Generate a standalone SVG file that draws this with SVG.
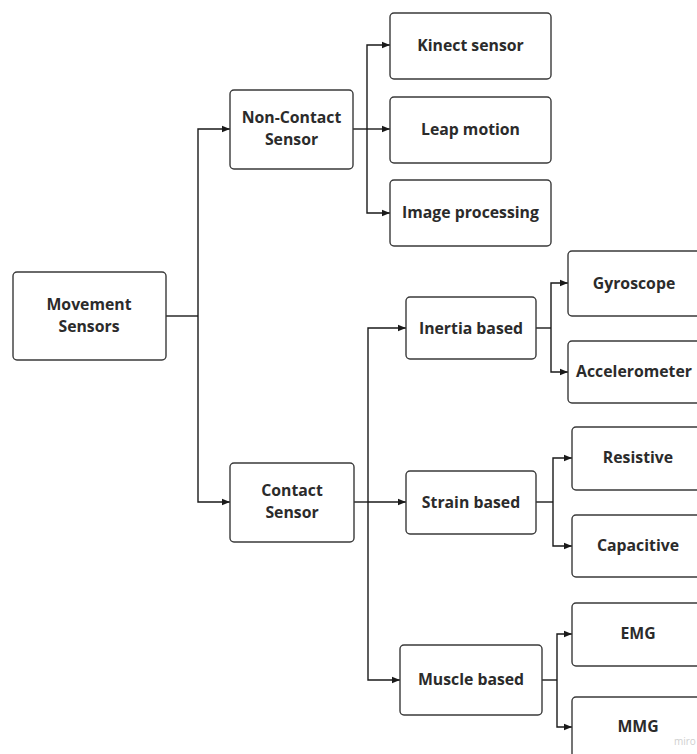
<svg xmlns="http://www.w3.org/2000/svg" width="697" height="754" viewBox="0 0 697 754">
  <defs>
    <marker id="arrow" viewBox="0 0 10 10" refX="10" refY="5" markerWidth="8" markerHeight="8" markerUnits="userSpaceOnUse" orient="auto">
      <path d="M0,1 L10,5 L0,9 z" fill="#1a1a1a"/>
    </marker>
    <style>
      .box { fill: #ffffff; stroke: #3a3a3a; stroke-width: 1.4; }
      .lbl { font-family: "Open Sans", "Noto Sans", "Liberation Sans", sans-serif; font-size: 15.8px; font-weight: 700; fill: #2b2b2b; text-anchor: middle; }
      .wire { fill: none; stroke: #1a1a1a; stroke-width: 1.4; }
      .arr { marker-end: url(#arrow); }
      .brand { font-family: "Open Sans", "Liberation Sans", sans-serif; font-size: 10px; fill: #cfcfcf; }
    </style>
  </defs>
  <rect width="697" height="754" fill="#ffffff"/>

  <!-- connectors -->
  <g id="connectors">
    <!-- root to level 1 -->
    <path class="wire" d="M166,316 H198"/>
    <path class="wire arr" d="M198,316 V129 H230"/>
    <path class="wire arr" d="M198,316 V502 H230"/>
    <!-- non-contact branch -->
    <path class="wire" d="M353,129 H367"/>
    <path class="wire arr" d="M367,129 V45 H390"/>
    <path class="wire arr" d="M367,129 H390"/>
    <path class="wire arr" d="M367,129 V213 H390"/>
    <!-- contact branch -->
    <path class="wire" d="M354,502 H368"/>
    <path class="wire arr" d="M368,502 V328 H406"/>
    <path class="wire arr" d="M368,502 H406"/>
    <path class="wire arr" d="M368,502 V680 H400"/>
    <!-- inertia -->
    <path class="wire" d="M536,328 H551"/>
    <path class="wire arr" d="M551,328 V283 H568"/>
    <path class="wire arr" d="M551,328 V372 H568"/>
    <!-- strain -->
    <path class="wire" d="M536,502 H553"/>
    <path class="wire arr" d="M553,502 V458 H572"/>
    <path class="wire arr" d="M553,502 V546 H572"/>
    <!-- muscle -->
    <path class="wire" d="M542,680 H557"/>
    <path class="wire arr" d="M557,680 V634 H572"/>
    <path class="wire arr" d="M557,680 V727 H572"/>
  </g>

  <g id="movement-sensors">
    <rect class="box" x="13" y="272" width="153" height="88" rx="4"/>
    <text class="lbl" x="89" y="310">Movement</text>
    <text class="lbl" x="89" y="332">Sensors</text>
  </g>

  <g id="non-contact-sensor">
    <rect class="box" x="230" y="90" width="123" height="79" rx="4"/>
    <text class="lbl" x="291.5" y="123">Non-Contact</text>
    <text class="lbl" x="291.5" y="145">Sensor</text>
  </g>

  <g id="contact-sensor">
    <rect class="box" x="230" y="463" width="124" height="79" rx="4"/>
    <text class="lbl" x="292" y="496">Contact</text>
    <text class="lbl" x="292" y="518">Sensor</text>
  </g>

  <g id="kinect-sensor">
    <rect class="box" x="390" y="13" width="161" height="66" rx="4"/>
    <text class="lbl" x="470.5" y="51">Kinect sensor</text>
  </g>

  <g id="leap-motion">
    <rect class="box" x="390" y="97" width="161" height="66" rx="4"/>
    <text class="lbl" x="470.5" y="135">Leap motion</text>
  </g>

  <g id="image-processing">
    <rect class="box" x="390" y="180" width="161" height="66" rx="4"/>
    <text class="lbl" x="470.5" y="218">Image processing</text>
  </g>

  <g id="inertia-based">
    <rect class="box" x="406" y="297" width="130" height="62" rx="4"/>
    <text class="lbl" x="471" y="334">Inertia based</text>
  </g>

  <g id="gyroscope">
    <rect class="box" x="568" y="251" width="134" height="65" rx="4"/>
    <text class="lbl" x="634" y="289">Gyroscope</text>
  </g>

  <g id="accelerometer">
    <rect class="box" x="568" y="341" width="134" height="62" rx="4"/>
    <text class="lbl" x="634" y="377">Accelerometer</text>
  </g>

  <g id="strain-based">
    <rect class="box" x="406" y="471" width="130" height="63" rx="4"/>
    <text class="lbl" x="471" y="508">Strain based</text>
  </g>

  <g id="resistive">
    <rect class="box" x="572" y="427" width="132" height="63" rx="4"/>
    <text class="lbl" x="638" y="463">Resistive</text>
  </g>

  <g id="capacitive">
    <rect class="box" x="572" y="515" width="132" height="62" rx="4"/>
    <text class="lbl" x="638" y="551">Capacitive</text>
  </g>

  <g id="muscle-based">
    <rect class="box" x="400" y="645" width="142" height="70" rx="4"/>
    <text class="lbl" x="471" y="685">Muscle based</text>
  </g>

  <g id="emg">
    <rect class="box" x="572" y="603" width="132" height="63" rx="4"/>
    <text class="lbl" x="638" y="639">EMG</text>
  </g>

  <g id="mmg">
    <rect class="box" x="572" y="697" width="132" height="70" rx="4"/>
    <text class="lbl" x="638" y="732">MMG</text>
  </g>

  <text class="brand" x="674" y="745">miro</text>
</svg>
